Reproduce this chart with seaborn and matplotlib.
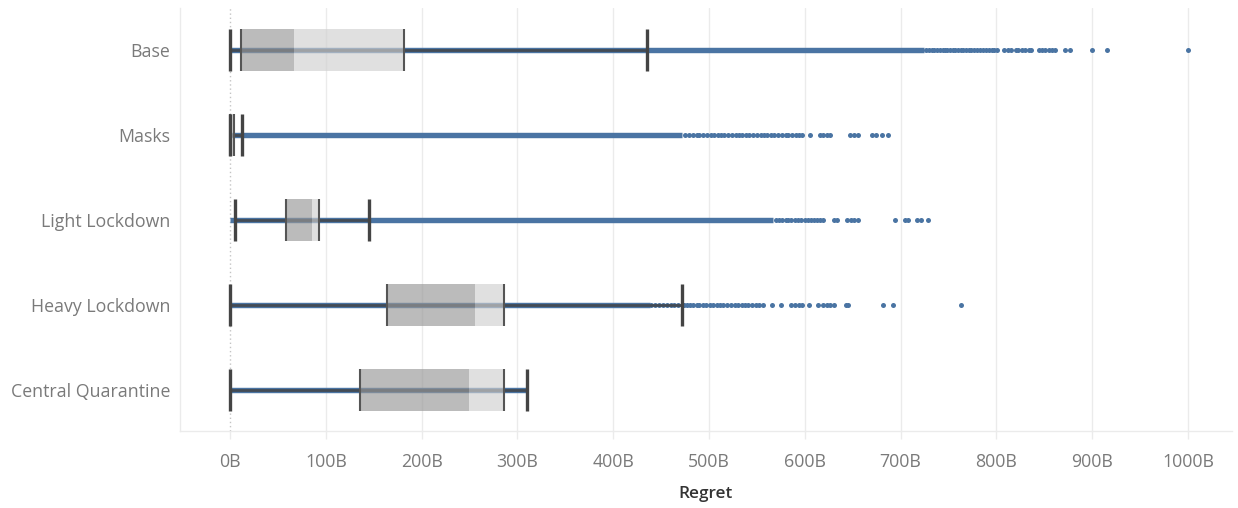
import matplotlib
matplotlib.use("Agg")
import matplotlib.pyplot as plt
import seaborn as sns
import pandas as pd
import numpy as np

# ---------------- data ----------------
categories = ["Base", "Masks", "Light Lockdown", "Heavy Lockdown", "Central Quarantine"]

lower_whisker = [0, 0, 5.5, 0, 0]
q1 = [11, 0.3, 58, 163.5, 136]
median = [67, 2, 86, 256, 249]
q3 = [181.5, 4.5, 93, 286.5, 286]
upper_whisker = [435, 13, 145.5, 471.5, 310]

# continuous run of observations (too dense to separate)
dense_start = [0, 0, 0, 0, 0]
dense_end = [724, 472, 567, 438, 310]

# individually visible observations beyond the dense run
points_base = [727, 730, 733, 735, 738, 741, 744, 746, 749, 752, 755, 757, 760,
               763, 765, 768, 771, 774, 777, 780, 783, 786, 789, 792, 795, 798,
               801, 808, 812, 815, 820, 823, 827, 830, 834, 836, 845, 848, 851,
               855, 858, 861, 872, 877, 900, 916, 1000]
points_masks = [475, 479, 483, 487, 490, 494, 498, 502, 505, 509, 513, 516, 520,
                524, 528, 531, 535, 539, 542, 546, 550, 554, 557, 561, 565, 568,
                572, 576, 580, 583, 587, 591, 594, 597, 605.5, 616, 619.5, 623,
                626.5, 647, 651, 656, 670, 674.5, 680.5, 687]
points_light = [570, 573, 576, 580, 583, 586, 590, 593, 596, 600, 603, 606, 610,
                613, 616, 619, 630, 633.5, 644, 648, 651, 656, 694, 704.6, 708,
                716.8, 721, 729]
points_heavy = [440, 444, 448, 452, 456, 460, 464, 468, 474, 477, 480, 483, 487,
                490, 494, 497, 501, 504, 508, 512, 515, 519, 523, 527, 530, 534,
                538, 541, 545, 549, 552, 556, 565.5, 575, 586, 590, 594, 597, 604,
                614, 619, 623, 626, 630, 643, 645.5, 682, 692, 763]
points_central = []

x_ticks = [0, 100, 200, 300, 400, 500, 600, 700, 800, 900, 1000]
x_tick_labels = [f"{t}B" for t in x_ticks]
x_label = "Regret"

# ---------------- build frame ----------------
rows = []
for cat, pts in zip(categories, [points_base, points_masks, points_light,
                                 points_heavy, points_central]):
    for v in pts:
        rows.append({"Scenario": cat, "Regret": v})
df = pd.DataFrame(rows)

# ---------------- style ----------------
sns.set_theme(style="white")
plt.rcParams["font.family"] = ["Open Sans", "DejaVu Sans"]

BLUE = "#4a74a3"
DARKLINE = "#434b55"
CAP = "#444444"
GRID = "#ebebeb"
TICKGRAY = "#7a7a7a"
FS = 12.8

fig = plt.figure(figsize=(12.38, 5.08), dpi=100)
ax = fig.add_axes([180 / 1238, 1 - 431 / 508, (1232 - 180) / 1238, (431 - 8) / 508])

# outlier / sparse points
sns.stripplot(data=df, x="Regret", y="Scenario", order=categories, jitter=False,
              color=BLUE, size=3.6, linewidth=0, ax=ax, zorder=3)

pos = np.arange(len(categories))

# dense runs
ax.hlines(pos, dense_start, dense_end, color=BLUE, lw=3.9, zorder=2,
          capstyle="butt")
# whisker connector
ax.hlines(pos, lower_whisker, upper_whisker, color=DARKLINE, lw=2.0, zorder=4)

# boxes
box_h = 0.5
ax.barh(pos, np.array(median) - np.array(q1), left=q1, height=box_h,
        color="#989898", alpha=0.66, linewidth=0, zorder=5)
ax.barh(pos, np.array(q3) - np.array(median), left=median, height=box_h,
        color="#d0d0d0", alpha=0.66, linewidth=0, zorder=5)
# box edges
ax.vlines(q1, pos - box_h / 2, pos + box_h / 2, color="#555555", lw=1.5, zorder=6)
ax.vlines(q3, pos - box_h / 2, pos + box_h / 2, color="#555555", lw=1.5, zorder=6)
# whisker caps
ax.vlines(lower_whisker, pos - box_h / 2, pos + box_h / 2, color=CAP, lw=2.4, zorder=7)
ax.vlines(upper_whisker, pos - box_h / 2, pos + box_h / 2, color=CAP, lw=2.4, zorder=7)

# zero reference line
ax.axvline(0, color="#c4c4c4", lw=1.0, ls=(0, (1, 2)), zorder=1)

# axes
ax.set_xlim(-52.2, 1046)
ax.set_ylim(4.482, -0.494)
ax.set_xticks(x_ticks)
ax.set_xticklabels(x_tick_labels)
for t in x_ticks[1:]:
    ax.axvline(t, color=GRID, lw=1.0, zorder=0)

ax.tick_params(axis="x", length=6, width=1, color=GRID, pad=10,
               labelsize=FS, labelcolor=TICKGRAY, bottom=True)
ax.tick_params(axis="y", length=0, pad=7, labelsize=FS, labelcolor=TICKGRAY)

ax.set_ylabel("")
ax.set_xlabel(x_label, fontsize=12.3, color="#333333", fontweight="semibold",
              labelpad=11)

for s in ["top", "right"]:
    ax.spines[s].set_visible(False)
for s in ["left", "bottom"]:
    ax.spines[s].set_color(GRID)
    ax.spines[s].set_linewidth(1.0)

fig.savefig("out.png", dpi=100)
